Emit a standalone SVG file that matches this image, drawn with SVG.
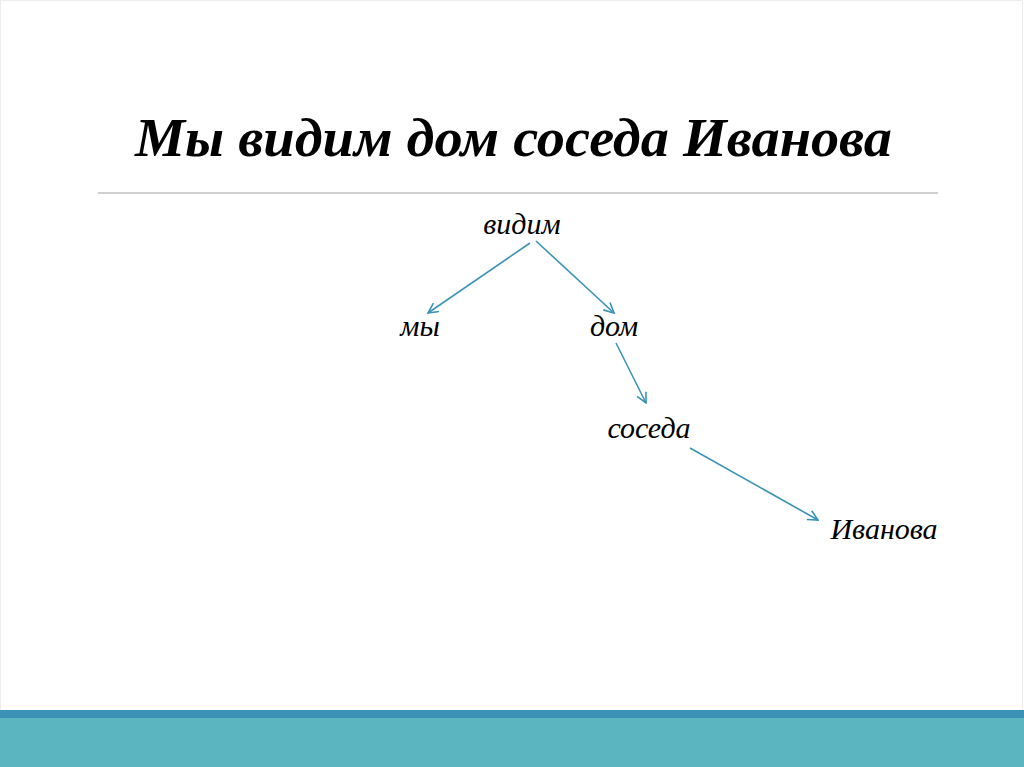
<svg xmlns="http://www.w3.org/2000/svg" width="1024" height="767" viewBox="0 0 1024 767">
<style>
.t{font-family:"Liberation Serif","DejaVu Serif",serif;font-style:italic;fill:#000}
.n{font-size:30px}
.e{stroke:#3A93B6;stroke-width:1.6;fill:none;marker-end:url(#ah)}
</style>
<defs>
<marker id="ah" viewBox="0 0 12 12" refX="11" refY="6" markerWidth="12" markerHeight="12" markerUnits="userSpaceOnUse" orient="auto">
<path d="M1,1 L11,6 L1,11" fill="none" stroke="#3A93B6" stroke-width="1.6"/>
</marker>
</defs>
<rect width="1024" height="767" fill="#fff"/>
<rect x="0.5" y="0.5" width="1022" height="766" fill="none" stroke="#ececec"/>
<g id="title">
<text class="t" x="135" y="156" font-size="54" font-weight="bold" textLength="757" lengthAdjust="spacingAndGlyphs">Мы видим дом соседа Иванова</text>
</g>
<line x1="98" y1="193" x2="938" y2="193" stroke="#c0c0c0" stroke-width="1.5"/>
<g id="n-vidim"><text class="t n" x="522" y="234" text-anchor="middle">видим</text></g>
<g id="n-my"><text class="t n" x="420" y="336" text-anchor="middle">мы</text></g>
<g id="n-dom"><text class="t n" x="614" y="336" text-anchor="middle">дом</text></g>
<g id="n-soseda"><text class="t n" x="649" y="438" text-anchor="middle">соседа</text></g>
<g id="n-ivanova"><text class="t n" x="884" y="539" text-anchor="middle">Иванова</text></g>
<g id="connectors">
<line class="e" x1="530" y1="243" x2="428" y2="313"/>
<line class="e" x1="536" y1="241" x2="614" y2="313"/>
<line class="e" x1="616" y1="343" x2="646" y2="403"/>
<line class="e" x1="690" y1="448" x2="818" y2="520"/>
</g>
<rect x="0" y="710" width="1024" height="8" fill="#3A93B6"/>
<rect x="0" y="718" width="1024" height="49" fill="#5AB5C0"/>
</svg>
